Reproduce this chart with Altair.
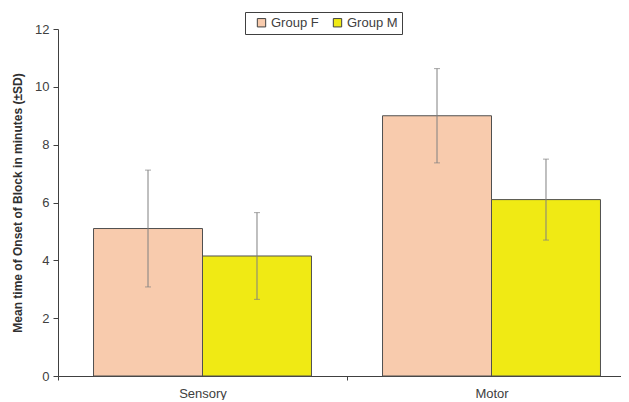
import altair as alt
import pandas as pd

categories = ["Sensory", "Sensory", "Motor", "Motor"]
groups = ["Group F", "Group M", "Group F", "Group M"]
means = [5.1, 4.15, 9.0, 6.1]
sds = [2.02, 1.5, 1.63, 1.4]

df = pd.DataFrame({"cat": categories, "group": groups, "mean": means, "sd": sds})
df["lo"] = df["mean"] - df["sd"]
df["hi"] = df["mean"] + df["sd"]

FONT = "Liberation Sans"
cat_order = ["Sensory", "Motor"]

x = alt.X("cat:N", sort=cat_order, title=None,
          scale=alt.Scale(range=[0, 578], paddingInner=0, paddingOuter=0),
          axis=alt.Axis(tickBand="extent", labelAngle=0, labelFontSize=13,
                        labelFont=FONT, labelColor="#404040", domainColor="#404040",
                        tickColor="#404040", tickSize=4, labelPadding=7, grid=False))
xo = alt.XOffset("group:N", scale=alt.Scale(paddingInner=0, paddingOuter=0.326))

base = alt.Chart(df)

bars = base.mark_bar(stroke="#505050", strokeWidth=1).encode(
    x=x, xOffset=xo,
    y=alt.Y("mean:Q", scale=alt.Scale(domain=[0, 12]),
            title="Mean time of Onset of Block in minutes (±SD)",
            axis=alt.Axis(values=[0, 2, 4, 6, 8, 10, 12], grid=False,
                          labelFontSize=13, labelFont=FONT, labelColor="#404040",
                          domainColor="#404040", tickColor="#404040", tickSize=5,
                          titleFont=FONT, titleFontSize=12, titleFontWeight="bold",
                          titleColor="#303030", titlePadding=10, labelPadding=4)),
    color=alt.Color("group:N",
                    scale=alt.Scale(domain=["Group F", "Group M"], range=["#F8CBAD", "#F0EA14"]),
                    legend=alt.Legend(title=None, orient="none", legendX=187, legendY=-17,
                                      direction="horizontal", symbolType="square",
                                      symbolSize=70, symbolStrokeColor="#404040",
                                      symbolStrokeWidth=1, labelFont=FONT, labelFontSize=13,
                                      labelColor="#404040", strokeColor="#404040",
                                      padding=4, columnPadding=6, symbolOffset=6,
                                      labelOffset=3, fillColor="white")),
)

rules = base.mark_rule(color="#808080", strokeWidth=1).encode(
    x=x, xOffset=xo, y="lo:Q", y2="hi:Q")
caps_hi = base.mark_tick(color="#808080", thickness=1, size=6, orient="horizontal").encode(
    x=x, xOffset=xo, y="hi:Q")
caps_lo = base.mark_tick(color="#808080", thickness=1, size=6, orient="horizontal").encode(
    x=x, xOffset=xo, y="lo:Q")

chart = alt.layer(bars, rules, caps_hi, caps_lo).properties(
    width=555, height=347,
    autosize=alt.AutoSizeParams(type="none"),
    padding={"left": 50, "top": 21, "right": 8, "bottom": 24},
).configure(background="white").configure_view(stroke=None)

chart.save("out.html", embed_options={"renderer": "svg", "actions": False})
